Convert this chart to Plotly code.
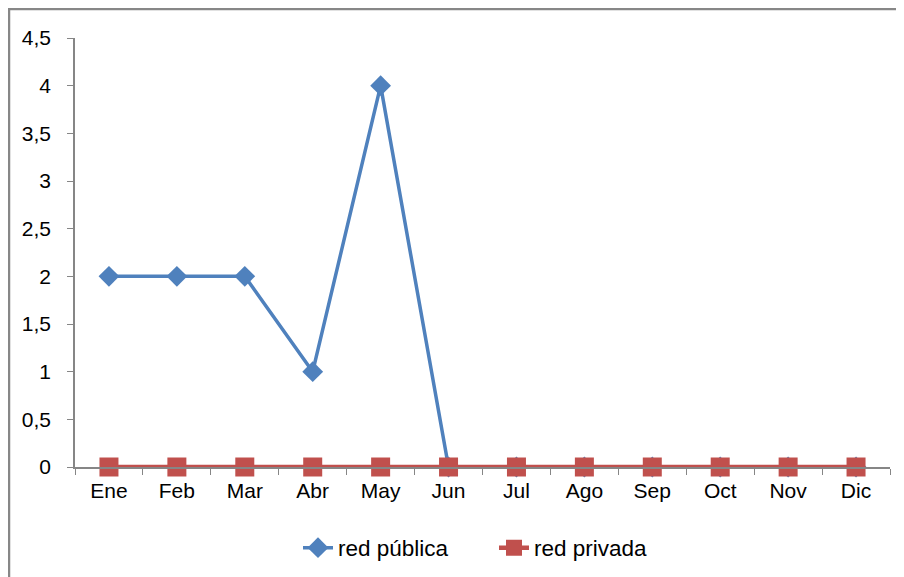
import plotly.graph_objects as go

months = ["Ene", "Feb", "Mar", "Abr", "May", "Jun", "Jul", "Ago", "Sep", "Oct", "Nov", "Dic"]
red_publica = [2, 2, 2, 1, 4, 0, 0, 0, 0, 0, 0, 0]
red_privada = [0, 0, 0, 0, 0, 0, 0, 0, 0, 0, 0, 0]

# page has an 8px body margin; figure coords = page coords - 8
W, H = 896, 569
L, T = 67, 30
R = W - 882
B = H - 459
pw, ph = W - L - R, H - T - B

fig = go.Figure()
fig.add_trace(go.Scatter(
    x=months, y=red_publica, name="red pública", mode="lines+markers",
    line=dict(color="#4F81BD", width=3.5),
    marker=dict(symbol="diamond", size=16, color="#4F81BD"),
    cliponaxis=False,
))
fig.add_trace(go.Scatter(
    x=months, y=red_privada, name="red privada", mode="lines+markers",
    line=dict(color="#C0504D", width=4.5),
    marker=dict(symbol="square", size=19, color="#C0504D"),
    cliponaxis=False,
))

fig.update_layout(
    width=W, height=H,
    margin=dict(l=L, r=R, t=T, b=B, pad=0, autoexpand=False),
    paper_bgcolor="white", plot_bgcolor="white",
    separators=",.",
    font=dict(family="Liberation Sans, Arial, sans-serif", size=21, color="#000000"),
    showlegend=True,
    legend=dict(orientation="h", x=(290 - L) / pw, xanchor="left",
                y=-(540 - 459) / ph, yanchor="middle",
                font=dict(size=22.5), traceorder="normal",
                entrywidth=151, entrywidthmode="pixels"),
    xaxis=dict(type="category", range=[-0.5, 11.5], showgrid=False,
               showline=True, linecolor="#868686", linewidth=1.5,
               ticks="outside", tickson="boundaries", ticklen=6, tickcolor="#868686",
               ticklabelstandoff=4, zeroline=False, fixedrange=True),
    yaxis=dict(range=[0, 4.5], dtick=0.5, tick0=0, showgrid=False,
               showline=True, linecolor="#868686", linewidth=1.5,
               ticks="outside", ticklen=6, tickcolor="#868686",
               ticklabelstandoff=12, zeroline=False, fixedrange=True),
    shapes=[dict(type="rect", xref="paper", yref="paper",
                 x0=(1 - L) / pw, x1=1.2, y0=-0.5, y1=(459 - 1) / ph,
                 line=dict(color="#878787", width=2.5), fillcolor="rgba(0,0,0,0)", layer="below")],
)

fig.write_html("out.html")
